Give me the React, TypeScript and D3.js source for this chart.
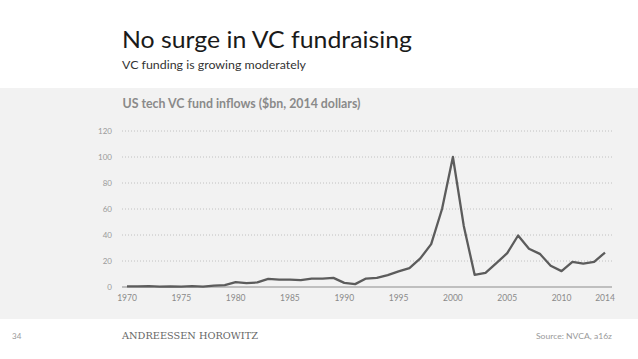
import React from "react";
import * as d3 from "d3";

const years: number[] = d3.range(1970, 2015);
const inflows: number[] = [
  0.5, 0.5, 0.7, 0.3, 0.5, 0.3, 0.6, 0.3, 1.0, 1.5,
  3.8, 3.0, 3.5, 6.2, 5.6, 5.6, 5.3, 6.5, 6.5, 7.0,
  3.2, 2.2, 6.5, 7.0, 9.2, 12.0, 14.5, 22.0, 33.0, 60.0,
  100.0, 47.0, 9.4, 10.9, 18.3, 26.0, 39.6, 29.4, 25.5, 16.3,
  12.2, 19.4, 18.0, 19.4, 26.5,
];
const yTicks: number[] = [0, 20, 40, 60, 80, 100, 120];
const xTicks: number[] = [1970, 1975, 1980, 1985, 1990, 1995, 2000, 2005, 2010, 2014];

const title = "No surge in VC fundraising";
const subtitle = "VC funding is growing moderately";
const chartTitle = "US tech VC fund inflows ($bn, 2014 dollars)";
const pageNum = "34";
const brand = "ANDREESSEN HOROWITZ";
const source = "Source: NVCA, a16z";

export default function App() {
  const W = 638, H = 359;
  const x = d3.scaleLinear().domain([1970, 2014]).range([127, 605]);
  const y = d3.scaleLinear().domain([0, 120]).range([287, 131]);
  const line = d3
    .line<number>()
    .x((_, i) => x(years[i]))
    .y((d) => y(d));
  const font = "Lato, 'Open Sans', sans-serif";
  return (
    <svg
      width={W}
      height={H}
      style={{ position: "absolute", left: 0, top: 0, display: "block" }}
    >
      <rect x={0} y={0} width={W} height={H} fill="#ffffff" />
      <rect x={0} y={88} width={W} height={231} fill="#f2f2f2" />
      <text x={122} y={48} fontFamily={font} fontSize={23} fill="#1a1a1a" textLength={290} lengthAdjust="spacingAndGlyphs">
        {title}
      </text>
      <text x={122} y={69} fontFamily={font} fontSize={11} fill="#333" textLength={184} lengthAdjust="spacingAndGlyphs">
        {subtitle}
      </text>
      <text x={122.5} y={107.7} fontFamily={font} fontSize={12.5} fontWeight="bold" fill="#8a8a8a" textLength={238} lengthAdjust="spacingAndGlyphs">
        {chartTitle}
      </text>
      {yTicks.map((t) => (
        <g key={t}>
          {t > 0 && (
            <line x1={122} x2={612} y1={y(t)} y2={y(t)} stroke="#b5b5b5" strokeWidth={0.8} strokeDasharray="1,2" />
          )}
          <text x={112} y={y(t)} dy="0.35em" textAnchor="end" fontFamily={font} fontSize={8} fill="#9a9a9a">
            {t}
          </text>
        </g>
      ))}
      <line x1={122} x2={612} y1={y(0)} y2={y(0)} stroke="#8c8c8c" strokeWidth={1} />
      {xTicks.map((t) => (
        <text key={t} x={x(t)} y={298.5} dy="0.35em" textAnchor="middle" fontFamily={font} fontSize={8.5} fill="#8a8a8a">
          {t}
        </text>
      ))}
      <path d={line(inflows) || ""} fill="none" stroke="#5c5c5c" strokeWidth={2.3} strokeLinejoin="round" />
      <text x={12} y={338.5} fontFamily={font} fontSize={8} fill="#999">
        {pageNum}
      </text>
      <text x={122} y={339} fontFamily="'DejaVu Serif', 'Liberation Serif', serif" fontSize={9} fill="#666" textLength={136} lengthAdjust="spacingAndGlyphs">
        {brand}
      </text>
      <text x={536} y={338.5} fontFamily={font} fontSize={8} fill="#999" textLength={76} lengthAdjust="spacingAndGlyphs">
        {source}
      </text>
    </svg>
  );
}
